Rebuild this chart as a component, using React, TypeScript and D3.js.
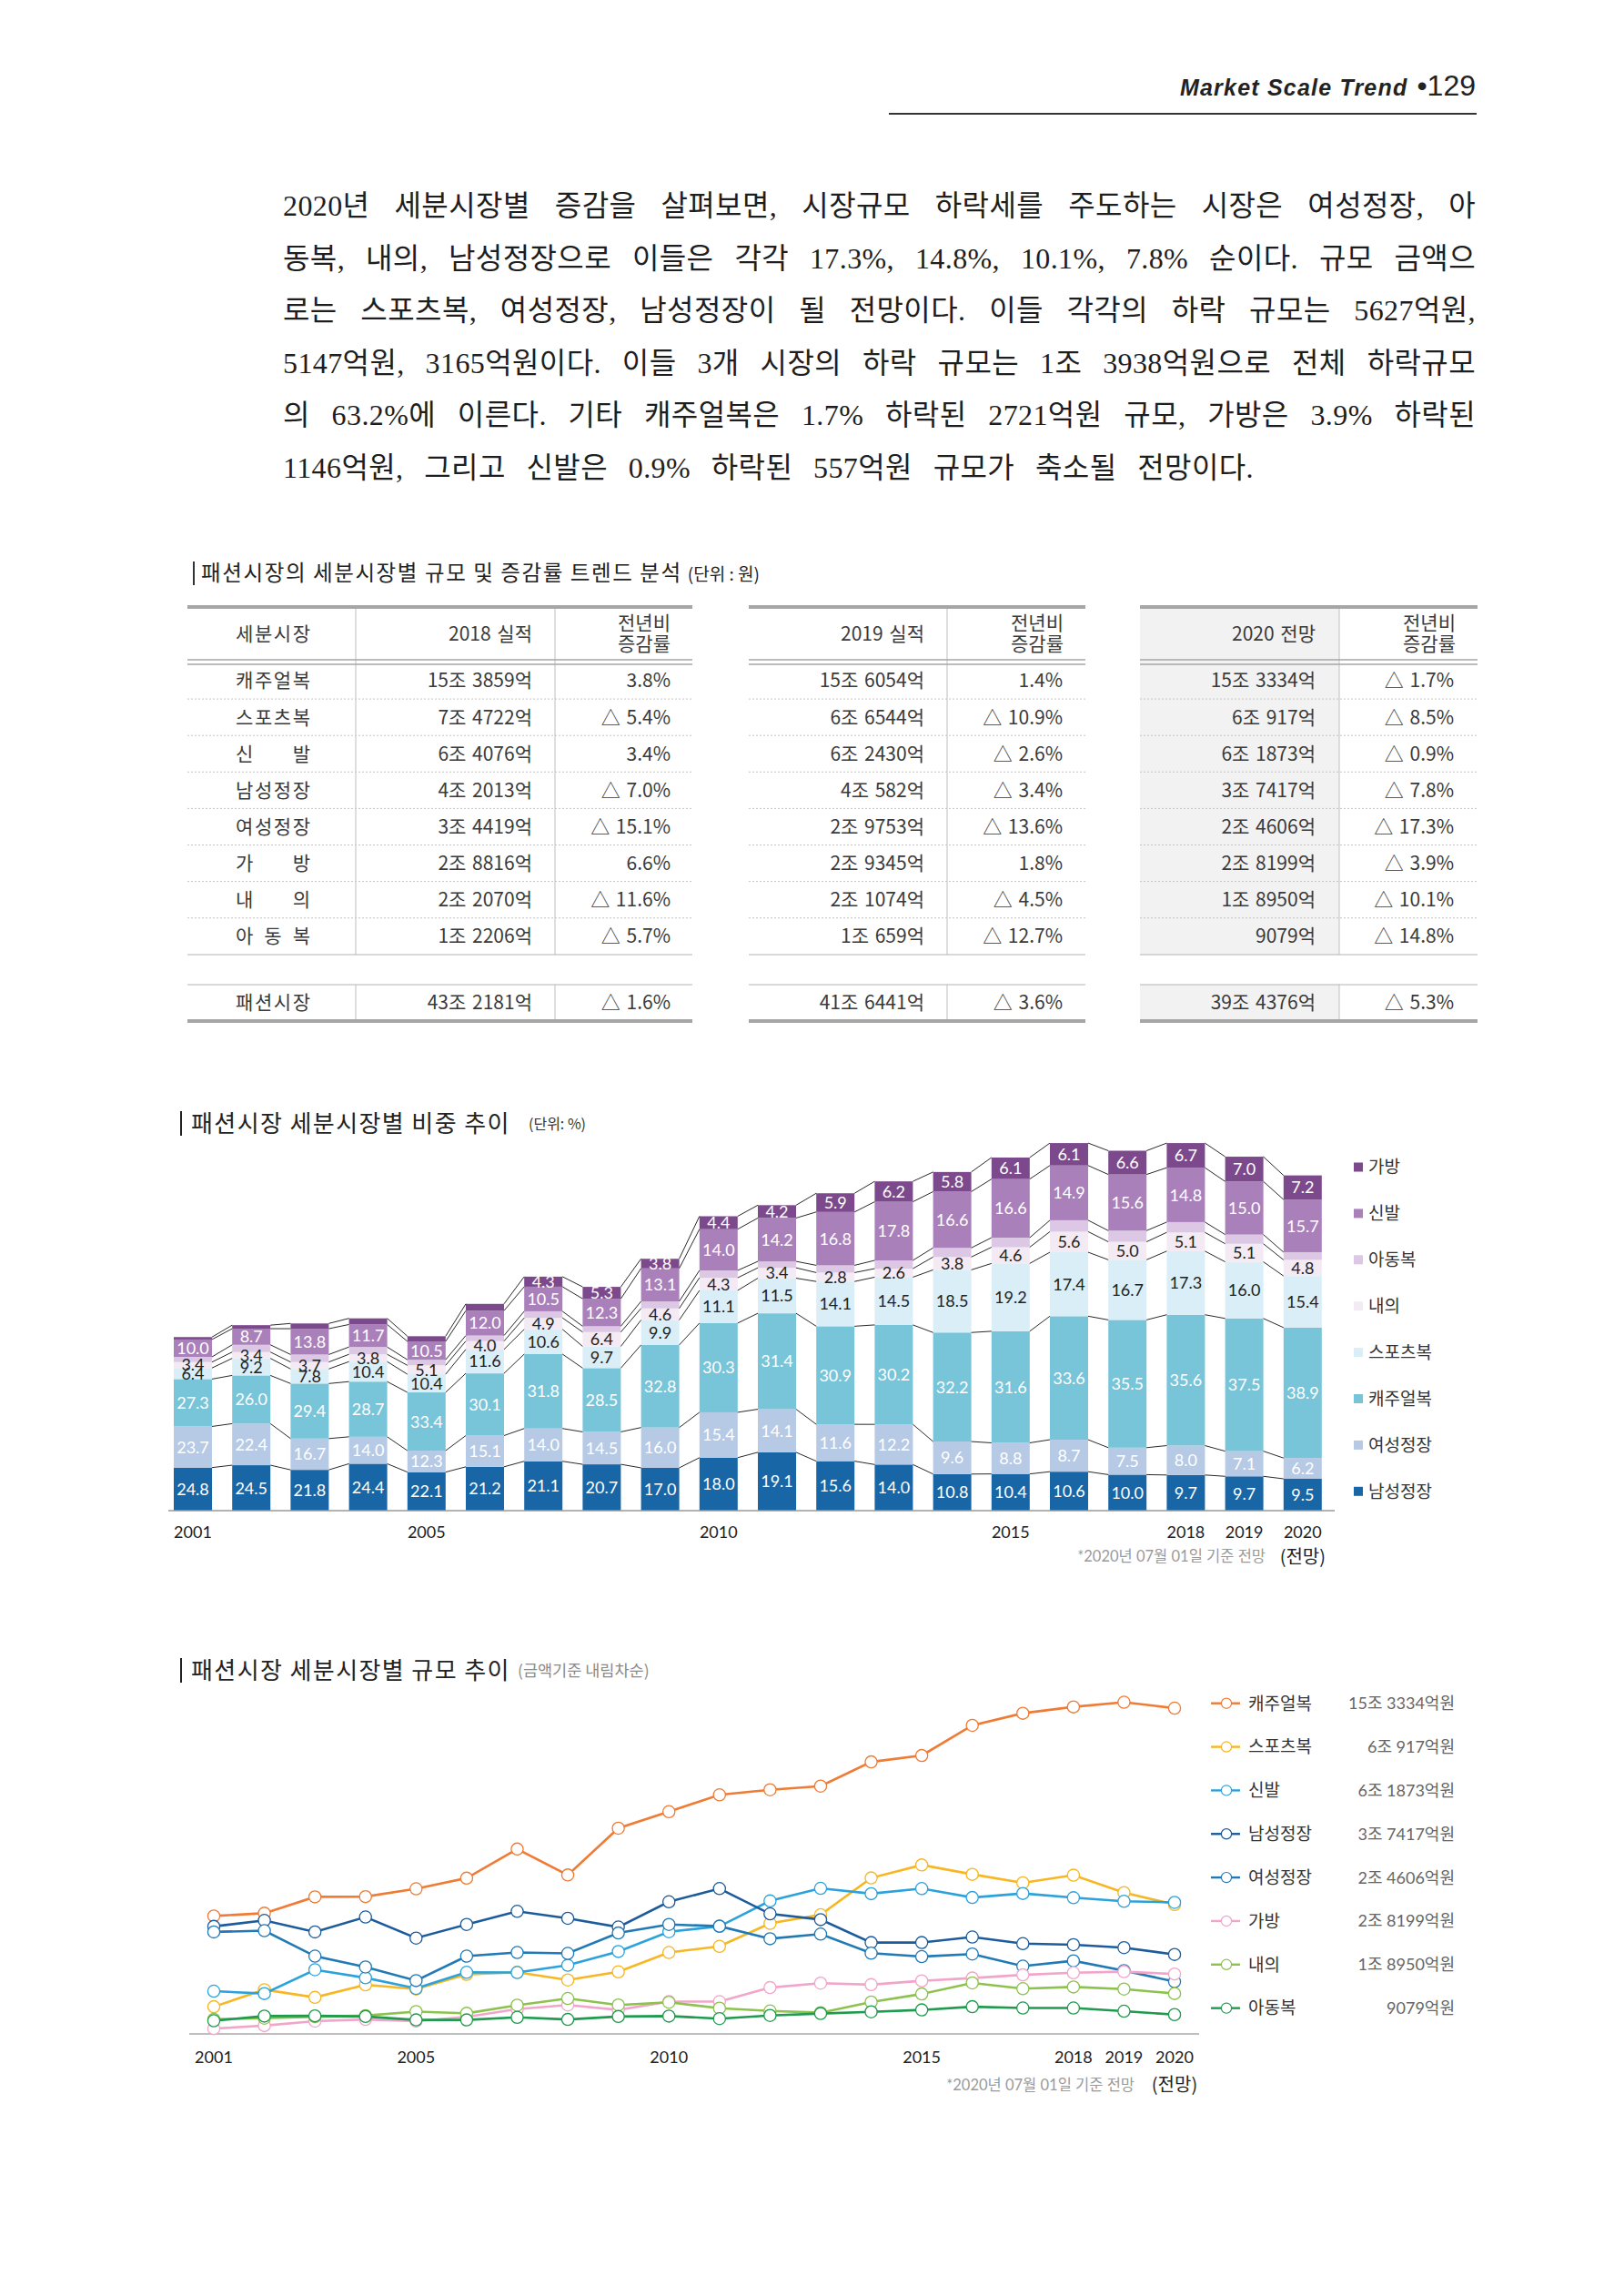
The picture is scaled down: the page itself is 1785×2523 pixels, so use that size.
import React, { useEffect, useRef } from 'react';
import * as d3 from 'd3';

// ---------------- DATA ----------------
const YEARS = [2001, 2002, 2003, 2004, 2005, 2006, 2007, 2008, 2009, 2010, 2011, 2012, 2013, 2014, 2015, 2016, 2017, 2018, 2019, 2020];
const TICK_YEARS = [2001, 2005, 2010, 2015, 2018, 2019, 2020];

// stacked bar: segment shares (%) per year, bottom to top
const SEGMENTS = ['남성정장', '여성정장', '캐주얼복', '스포츠복', '내의', '아동복', '신발', '가방'];
const SHARE_MEN = [24.8, 24.5, 21.8, 24.4, 22.1, 21.2, 21.1, 20.7, 17.0, 18.0, 19.1, 15.6, 14.0, 10.8, 10.4, 10.6, 10.0, 9.7, 9.7, 9.5];
const SHARE_WOMEN = [23.7, 22.4, 16.7, 14.0, 12.3, 15.1, 14.0, 14.5, 16.0, 15.4, 14.1, 11.6, 12.2, 9.6, 8.8, 8.7, 7.5, 8.0, 7.1, 6.2];
const SHARE_CASUAL = [27.3, 26.0, 29.4, 28.7, 33.4, 30.1, 31.8, 28.5, 32.8, 30.3, 31.4, 30.9, 30.2, 32.2, 31.6, 33.6, 35.5, 35.6, 37.5, 38.9];
const SHARE_SPORTS = [6.4, 9.2, 7.8, 10.4, 10.4, 11.6, 10.6, 9.7, 9.9, 11.1, 11.5, 14.1, 14.5, 18.5, 19.2, 17.4, 16.7, 17.3, 16.0, 15.4];
const SHARE_UNDER = [3.4, 3.4, 3.7, 3.8, 5.1, 4.0, 4.9, 6.4, 4.6, 4.3, 3.4, 2.8, 2.6, 3.8, 4.6, 5.6, 5.0, 5.1, 5.1, 4.8];
const SHARE_KIDS = [3.0, 3.9, 4.0, 3.8, 3.2, 2.7, 2.8, 2.6, 2.8, 2.5, 2.1, 2.3, 2.5, 2.7, 2.7, 3.1, 3.1, 2.8, 2.6, 2.3];
const SHARE_SHOES = [10.0, 8.7, 13.8, 11.7, 10.5, 12.0, 10.5, 12.3, 13.1, 14.0, 14.2, 16.8, 17.8, 16.6, 16.6, 14.9, 15.6, 14.8, 15.0, 15.7];
const SHARE_BAGS = [1.4, 1.9, 2.8, 3.2, 3.0, 3.3, 4.3, 5.3, 3.8, 4.4, 4.2, 5.9, 6.2, 5.8, 6.1, 6.1, 6.6, 6.7, 7.0, 7.2];
// total market size (조원) – bar heights
const MARKET_TOTAL = [20.4, 21.8, 22.0, 22.6, 20.5, 24.3, 27.5, 26.3, 29.6, 34.6, 35.9, 37.3, 38.7, 39.8, 41.5, 43.2, 42.3, 43.2, 41.6, 39.4];
const BAG_LABEL_FROM = 2007;

// line chart values (조원)
const LINE_NAMES = ['캐주얼복', '스포츠복', '신발', '남성정장', '여성정장', '가방', '내의', '아동복'];
const LINE_CASUAL = [5.55, 5.68, 6.45, 6.46, 6.83, 7.33, 8.70, 7.48, 9.68, 10.46, 11.25, 11.49, 11.66, 12.80, 13.10, 14.52, 15.09, 15.39, 15.61, 15.33];
const LINE_SPORTS = [1.28, 2.08, 1.72, 2.31, 2.11, 2.80, 2.90, 2.54, 2.92, 3.83, 4.12, 5.20, 5.61, 7.34, 7.95, 7.51, 7.11, 7.47, 6.65, 6.09];
const LINE_SHOES = [2.01, 1.90, 3.02, 2.64, 2.14, 2.90, 2.89, 3.23, 3.88, 4.81, 5.06, 6.26, 6.85, 6.60, 6.84, 6.42, 6.61, 6.41, 6.24, 6.19];
const LINE_MEN = [5.06, 5.34, 4.80, 5.50, 4.51, 5.15, 5.77, 5.44, 5.03, 6.22, 6.84, 5.65, 5.38, 4.30, 4.30, 4.56, 4.25, 4.20, 4.06, 3.74];
const LINE_WOMEN = [4.80, 4.86, 3.66, 3.15, 2.51, 3.66, 3.83, 3.79, 4.75, 5.15, 5.07, 4.48, 4.70, 3.80, 3.64, 3.76, 3.19, 3.44, 2.98, 2.46];
const LINE_BAGS = [0.25, 0.39, 0.60, 0.68, 0.60, 0.80, 1.17, 1.36, 1.13, 1.52, 1.52, 2.18, 2.39, 2.32, 2.50, 2.63, 2.78, 2.88, 2.93, 2.82];
const LINE_UNDER = [0.69, 0.74, 0.81, 0.86, 1.05, 0.97, 1.35, 1.67, 1.36, 1.49, 1.21, 1.08, 1.00, 1.50, 1.88, 2.40, 2.13, 2.21, 2.11, 1.90];
const LINE_KIDS = [0.62, 0.84, 0.85, 0.82, 0.66, 0.66, 0.78, 0.68, 0.82, 0.84, 0.72, 0.87, 0.96, 1.04, 1.13, 1.28, 1.22, 1.22, 1.07, 0.91];
const LINE_LEGEND_VALUES = ['15조 3334억원', '6조 917억원', '6조 1873억원', '3조 7417억원', '2조 4606억원', '2조 8199억원', '1조 8950억원', '9079억원'];

// table
const TABLE_NAMES = ['캐주얼복', '스포츠복', '신발', '남성정장', '여성정장', '가방', '내의', '아동복'];
const VAL_2018 = ['15조 3859억', '7조 4722억', '6조 4076억', '4조 2013억', '3조 4419억', '2조 8816억', '2조 2070억', '1조 2206억'];
const RATE_2018 = ['3.8%', '△ 5.4%', '3.4%', '△ 7.0%', '△ 15.1%', '6.6%', '△ 11.6%', '△ 5.7%'];
const VAL_2019 = ['15조 6054억', '6조 6544억', '6조 2430억', '4조 582억', '2조 9753억', '2조 9345억', '2조 1074억', '1조 659억'];
const RATE_2019 = ['1.4%', '△ 10.9%', '△ 2.6%', '△ 3.4%', '△ 13.6%', '1.8%', '△ 4.5%', '△ 12.7%'];
const VAL_2020 = ['15조 3334억', '6조 917억', '6조 1873억', '3조 7417억', '2조 4606억', '2조 8199억', '1조 8950억', '9079억'];
const RATE_2020 = ['△ 1.7%', '△ 8.5%', '△ 0.9%', '△ 7.8%', '△ 17.3%', '△ 3.9%', '△ 10.1%', '△ 14.8%'];
const TOTAL_ROW = ['패션시장', '43조 2181억', '△ 1.6%', '41조 6441억', '△ 3.6%', '39조 4376억', '△ 5.3%'];

const PARA_LINES = [
  '2020년 세분시장별 증감을 살펴보면, 시장규모 하락세를 주도하는 시장은 여성정장, 아',
  '동복, 내의, 남성정장으로 이들은 각각 17.3%, 14.8%, 10.1%, 7.8% 순이다. 규모 금액으',
  '로는 스포츠복, 여성정장, 남성정장이 될 전망이다. 이들 각각의 하락 규모는 5627억원,',
  '5147억원, 3165억원이다. 이들 3개 시장의 하락 규모는 1조 3938억원으로 전체 하락규모',
  '의 63.2%에 이른다. 기타 캐주얼복은 1.7% 하락된 2721억원 규모, 가방은 3.9% 하락된',
  '1146억원, 그리고 신발은 0.9% 하락된 557억원 규모가 축소될 전망이다.',
];

// ---------------- STYLE ----------------
const SHARES = [SHARE_MEN, SHARE_WOMEN, SHARE_CASUAL, SHARE_SPORTS, SHARE_UNDER, SHARE_KIDS, SHARE_SHOES, SHARE_BAGS];
const SEG_COLORS = ['#1866a6', '#b6c9e5', '#78c4d8', '#d9eef6', '#f3eaf4', '#dcc8e4', '#aa80bb', '#7c4a8c'];
const SEG_LABEL_COLORS = ['#ffffff', '#ffffff', '#ffffff', '#222222', '#222222', null, '#ffffff', '#ffffff'];
const LINE_SERIES = [LINE_CASUAL, LINE_SPORTS, LINE_SHOES, LINE_MEN, LINE_WOMEN, LINE_BAGS, LINE_UNDER, LINE_KIDS];
const LINE_COLORS = ['#ef7b35', '#f8b621', '#2ba2dc', '#1d5c9c', '#2179b5', '#f2a5ca', '#8cc24d', '#1f9a4e'];

const F_KR = "'Noto Sans CJK KR', 'Noto Sans', sans-serif";
const F_CHART = "Lato, 'Noto Sans CJK KR', sans-serif";
const F_PARA = "'Liberation Serif', 'Noto Sans CJK KR', serif";

export default function App() {
  const svgRef = useRef<SVGSVGElement>(null);

  useEffect(() => {
    const justify = () => {
      d3.select(svgRef.current).selectAll('g.pline').each(function () {
        const g = this as SVGGElement;
        const texts = Array.from(g.querySelectorAll('text')) as SVGTextElement[];
        const widths = texts.map((t) => t.getComputedTextLength());
        const x0 = +(g.getAttribute('data-x0') || 0);
        const x1 = +(g.getAttribute('data-x1') || 0);
        const gap = (x1 - x0 - d3.sum(widths)) / Math.max(1, texts.length - 1);
        let x = x0;
        texts.forEach((t, i) => {
          t.setAttribute('x', String(x));
          x += widths[i] + gap;
        });
      });
    };
    justify();
    if ((document as any).fonts && (document as any).fonts.ready) (document as any).fonts.ready.then(justify);
  }, []);

  // ----- bar chart scales -----
  const barX = d3.scaleBand<number>().domain(YEARS).range([179.9, 1463.9]).paddingInner(0.346).paddingOuter(0.173);
  const bw = barX.bandwidth();
  const barY = d3.scaleLinear().domain([0, 50]).range([1660, 1660 - 467.5]);
  const rows = YEARS.map((year, i) => {
    const r: any = { year };
    SEGMENTS.forEach((s, k) => (r[s] = (SHARES[k][i] * MARKET_TOTAL[i]) / 100));
    return r;
  });
  const stacked = d3.stack<any>().keys(SEGMENTS)(rows);

  // ----- line chart scales -----
  const lineX = d3.scalePoint<number>().domain(YEARS).range([235, 1291]);
  const lineY = d3.scaleLinear().domain([0, 16]).range([2235, 2235 - 16 * 23.35]);
  const lineGen = d3
    .line<number>()
    .x((_, i) => lineX(YEARS[i]) as number)
    .y((v) => lineY(v));

  // ----- table geometry -----
  const T_TOP = 667;
  const T_HEAD_B = 725;
  const ROW0 = 728;
  const ROW_H = 40.1;
  const T_DATA_B = 1049;
  const T_TOT_T = 1082;
  const T_BOT = 1122;
  const blocks = [
    { x0: 206, x1: 761, divs: [391, 610] },
    { x0: 823, x1: 1193, divs: [1041] },
    { x0: 1253, x1: 1624, divs: [1472] },
  ];
  const tableText = (x: number, y: number, s: string, anchor = 'end', extra: any = {}) => (
    <text x={x} y={y} dy="0.35em" textAnchor={anchor} fontFamily={F_KR} fontSize={21} wordSpacing={2} fill="#3a3a3a" {...extra}>
      {s}
    </text>
  );
  const rowC = (i: number) => ROW0 + ROW_H * i + ROW_H / 2;

  return (
    <svg
      ref={svgRef}
      width={1785}
      height={2523}
      viewBox="0 0 1785 2523"
      style={{ position: 'absolute', left: 0, top: 0, background: '#fff' }}
    >
      <rect x={0} y={0} width={1785} height={2523} fill="#fff" />

      {/* header */}
      <text x={1622} y={105} textAnchor="end" fill="#222">
        <tspan fontFamily="'Liberation Sans', Arial, sans-serif" fontStyle="italic" fontWeight={700} fontSize={25} letterSpacing={1.2}>
          Market Scale Trend
        </tspan>
        <tspan fontFamily="'Liberation Sans', Arial, sans-serif" fontSize={32} dx={10}>
          •129
        </tspan>
      </text>
      <line x1={977} x2={1623} y1={125} y2={125} stroke="#333" strokeWidth={2} />

      {/* paragraph */}
      {PARA_LINES.map((line, li) => (
        <g
          key={li}
          className="pline"
          data-x0={311}
          data-x1={li === PARA_LINES.length - 1 ? 1378 : 1622}
        >
          {line.split(' ').map((w, wi) => (
            <text key={wi} x={311} y={237 + li * 57.5} fontFamily={F_PARA} fontSize={32} letterSpacing={0.4} fill="#1e1e1e">
              {w}
            </text>
          ))}
        </g>
      ))}

      {/* ================= TABLE ================= */}
      <rect x={212} y={617} width={2} height={26} fill="#333" />
      <text x={221} y={638} fontFamily={F_KR} fontSize={23.5} letterSpacing={1.6} fill="#222">
        패션시장의 세분시장별 규모 및 증감률 트렌드 분석
        <tspan fontSize={19} letterSpacing={0} dx={6}>
          (단위 : 원)
        </tspan>
      </text>

      {/* shaded 2020 column */}
      <rect x={1253} y={T_TOP} width={219} height={T_DATA_B - T_TOP} fill="#f2f2f2" />
      <rect x={1253} y={T_TOT_T} width={219} height={T_BOT - T_TOT_T} fill="#f2f2f2" />

      {blocks.map((b, bi) => (
        <g key={bi}>
          {b.divs.map((dx, di) => (
            <g key={di}>
              <line x1={dx} x2={dx} y1={T_TOP} y2={T_DATA_B} stroke="#c9c9c9" strokeWidth={1.2} />
              <line x1={dx} x2={dx} y1={T_TOT_T} y2={T_BOT} stroke="#c9c9c9" strokeWidth={1.2} />
            </g>
          ))}
          {d3.range(1, 8).map((k) => (
            <line key={k} x1={b.x0} x2={b.x1} y1={ROW0 + ROW_H * k} y2={ROW0 + ROW_H * k} stroke="#c4c4c4" strokeWidth={1} strokeDasharray="2,2" />
          ))}
          <line x1={b.x0} x2={b.x1} y1={T_TOP} y2={T_TOP} stroke="#a6a6a6" strokeWidth={4} />
          <line x1={b.x0} x2={b.x1} y1={T_HEAD_B} y2={T_HEAD_B} stroke="#a6a6a6" strokeWidth={1.6} />
          <line x1={b.x0} x2={b.x1} y1={T_HEAD_B + 5} y2={T_HEAD_B + 5} stroke="#a6a6a6" strokeWidth={1.6} />
          <line x1={b.x0} x2={b.x1} y1={T_DATA_B} y2={T_DATA_B} stroke="#b4b4b4" strokeWidth={1.2} />
          <line x1={b.x0} x2={b.x1} y1={T_TOT_T} y2={T_TOT_T} stroke="#b4b4b4" strokeWidth={1.2} />
          <line x1={b.x0} x2={b.x1} y1={T_BOT} y2={T_BOT} stroke="#a6a6a6" strokeWidth={4} />
          {/* 전년비 증감률 header */}
          {tableText(b.x1 - 24, 685, '전년비')}
          {tableText(b.x1 - 24, 708, '증감률')}
        </g>
      ))}

      {/* header labels */}
      {tableText(300, 697, '세분시장', 'middle', { textLength: 82, lengthAdjust: 'spacing' })}
      {tableText(585, 697, '2018 실적')}
      {tableText(1016, 697, '2019 실적')}
      {tableText(1446, 697, '2020 전망')}

      {TABLE_NAMES.map((n, i) => (
        <g key={n}>
          {tableText(300, rowC(i), n, 'middle', { textLength: 82, lengthAdjust: 'spacing' })}
          {tableText(585, rowC(i), VAL_2018[i])}
          {tableText(737, rowC(i), RATE_2018[i])}
          {tableText(1016, rowC(i), VAL_2019[i])}
          {tableText(1168, rowC(i), RATE_2019[i])}
          {tableText(1446, rowC(i), VAL_2020[i])}
          {tableText(1598, rowC(i), RATE_2020[i])}
        </g>
      ))}
      {tableText(300, 1102, TOTAL_ROW[0], 'middle', { textLength: 82, lengthAdjust: 'spacing' })}
      {tableText(585, 1102, TOTAL_ROW[1])}
      {tableText(737, 1102, TOTAL_ROW[2])}
      {tableText(1016, 1102, TOTAL_ROW[3])}
      {tableText(1168, 1102, TOTAL_ROW[4])}
      {tableText(1446, 1102, TOTAL_ROW[5])}
      {tableText(1598, 1102, TOTAL_ROW[6])}

      {/* ================= STACKED BAR CHART ================= */}
      <rect x={198} y={1221} width={2} height={27} fill="#222" />
      <text x={210} y={1244} fontFamily={F_KR} fontSize={26} letterSpacing={1.4} fill="#222">
        패션시장 세분시장별 비중 추이
      </text>
      <text x={581} y={1241} fontFamily={F_KR} fontSize={16} fill="#333">
        (단위: %)
      </text>

      {stacked.map((layer, k) => (
        <g key={SEGMENTS[k]}>
          {layer.map((d, i) => (
            <rect
              key={i}
              x={barX(YEARS[i])}
              y={barY(d[1])}
              width={bw}
              height={barY(d[0]) - barY(d[1])}
              fill={SEG_COLORS[k]}
            />
          ))}
        </g>
      ))}
      {/* connectors */}
      {stacked.map((layer, k) => (
        <g key={'c' + k}>
          {layer.slice(0, -1).map((d, i) => (
            <line
              key={i}
              x1={(barX(YEARS[i]) as number) + bw}
              y1={barY(d[1])}
              x2={barX(YEARS[i + 1]) as number}
              y2={barY(layer[i + 1][1])}
              stroke="#2a2a2a"
              strokeWidth={1}
            />
          ))}
        </g>
      ))}
      {/* labels */}
      {stacked.map((layer, k) =>
        SEG_LABEL_COLORS[k] === null ? null : (
          <g key={'l' + k}>
            {layer.map((d, i) =>
              k === 7 && YEARS[i] < BAG_LABEL_FROM ? null : (
                <text
                  key={i}
                  x={(barX(YEARS[i]) as number) + bw / 2}
                  y={barY((d[0] + d[1]) / 2)}
                  dy="0.36em"
                  textAnchor="middle"
                  fontFamily={F_CHART}
                  fontSize={18}
                  fill={SEG_LABEL_COLORS[k] as string}
                >
                  {SHARES[k][i].toFixed(1)}
                </text>
              )
            )}
          </g>
        )
      )}
      <line x1={185} x2={1467} y1={1660} y2={1660} stroke="#9a9a9a" strokeWidth={1.5} />
      {TICK_YEARS.map((y) => (
        <text key={y} x={(barX(y) as number) + bw / 2} y={1690} textAnchor="middle" fontFamily={F_CHART} fontSize={18} fill="#222">
          {y}
        </text>
      ))}
      <text x={(barX(2020) as number) + bw / 2} y={1718} textAnchor="middle" fontFamily={F_KR} fontSize={20} fill="#222">
        (전망)
      </text>
      <text x={1391} y={1716} textAnchor="end" fontFamily={F_CHART} fontSize={16.5} fill="#9a9a9a">
        *2020년 07월 01일 기준 전망
      </text>

      {/* bar legend */}
      {SEGMENTS.slice()
        .reverse()
        .map((s, j) => {
          const k = SEGMENTS.length - 1 - j;
          const cy = 1282.5 + j * 50.9;
          return (
            <g key={s}>
              <rect x={1488} y={cy - 5} width={10} height={10} fill={SEG_COLORS[k]} />
              <text x={1504} y={cy} dy="0.36em" fontFamily={F_KR} fontSize={19} fill="#333">
                {s}
              </text>
            </g>
          );
        })}

      {/* ================= LINE CHART ================= */}
      <rect x={198} y={1822} width={2} height={27} fill="#222" />
      <text x={210} y={1845} fontFamily={F_KR} fontSize={26} letterSpacing={1.4} fill="#222">
        패션시장 세분시장별 규모 추이
      </text>
      <text x={569} y={1842} fontFamily={F_KR} fontSize={17.5} fill="#8a8a8a">
        (금액기준 내림차순)
      </text>

      <line x1={208} x2={1318} y1={2235} y2={2235} stroke="#a8a8a8" strokeWidth={1.5} />
      {LINE_SERIES.map((vals, s) => (
        <g key={LINE_NAMES[s]}>
          <path d={lineGen(vals) as string} fill="none" stroke={LINE_COLORS[s]} strokeWidth={2.6} />
          {vals.map((v, i) => (
            <circle key={i} cx={lineX(YEARS[i])} cy={lineY(v)} r={6.6} fill="#fff" stroke={LINE_COLORS[s]} strokeWidth={1.3} />
          ))}
        </g>
      ))}
      {TICK_YEARS.map((y) => (
        <text key={y} x={lineX(y)} y={2267} textAnchor="middle" fontFamily={F_CHART} fontSize={18} fill="#222">
          {y}
        </text>
      ))}
      <text x={lineX(2020)} y={2298} textAnchor="middle" fontFamily={F_KR} fontSize={20} fill="#222">
        (전망)
      </text>
      <text x={1247} y={2297} textAnchor="end" fontFamily={F_CHART} fontSize={16.5} fill="#9a9a9a">
        *2020년 07월 01일 기준 전망
      </text>

      {/* line legend */}
      {LINE_NAMES.map((n, s) => {
        const cy = 1871.7 + s * 47.85;
        return (
          <g key={n}>
            <line x1={1331} x2={1363} y1={cy} y2={cy} stroke={LINE_COLORS[s]} strokeWidth={2.4} />
            <circle cx={1348} cy={cy} r={5.6} fill="#fff" stroke={LINE_COLORS[s]} strokeWidth={1.2} />
            <text x={1372} y={cy} dy="0.36em" fontFamily={F_KR} fontSize={19} fill="#333">
              {n}
            </text>
            <text x={1599} y={cy} dy="0.36em" textAnchor="end" fontFamily={F_CHART} fontSize={18} fill="#666">
              {LINE_LEGEND_VALUES[s]}
            </text>
          </g>
        );
      })}
    </svg>
  );
}
